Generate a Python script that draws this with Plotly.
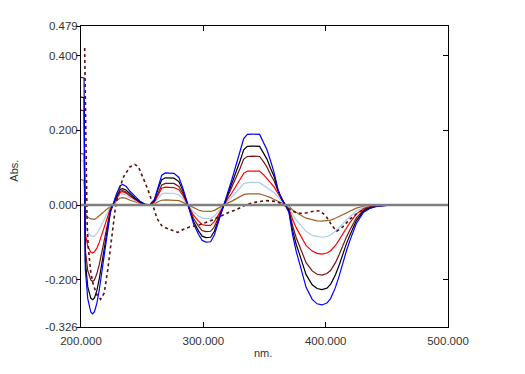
import plotly.graph_objects as go

# wavelength grid (nm)
wl = [200, 202.5, 203.5, 205.5, 208, 209.5, 211, 213, 215, 218, 221, 224, 226,
      229, 232, 234, 237, 240, 244, 248, 252, 256,
      260, 263, 266, 269, 272, 276, 280, 283, 286,
      289, 292, 296, 299, 302, 306, 309, 312, 314.5, 317,
      320, 323, 327, 330, 333, 336, 340, 346, 349, 352, 355, 358, 361, 364, 367,
      370, 373, 376, 379, 384, 389, 393, 397, 401, 404, 408, 411, 414, 417, 420,
      425, 431, 436, 441, 447, 452, 470, 500]

blue = [0.342, 0.340, -0.170, -0.250, -0.286, -0.291, -0.285, -0.262, -0.225, -0.155, -0.085, -0.020, 0.0,
        0.030, 0.052, 0.055, 0.050, 0.037, 0.024, 0.011, 0.003, 0.0,
        0.015, 0.050, 0.080, 0.086, 0.086, 0.085, 0.074, 0.048, 0.016,
        -0.016, -0.050, -0.078, -0.094, -0.099, -0.098, -0.080, -0.050, -0.020, 0.005,
        0.035, 0.065, 0.110, 0.142, 0.178, 0.189, 0.190, 0.189, 0.170, 0.148, 0.118, 0.085, 0.042, 0.016, 0.0,
        -0.020, -0.080, -0.125, -0.160, -0.220, -0.252, -0.264, -0.267, -0.262, -0.250, -0.220, -0.190, -0.155, -0.122, -0.093,
        -0.050, -0.019, -0.009, -0.004, -0.001, 0.0, 0.0, 0.0]

black = [0.289, 0.287, -0.148, -0.218, -0.249, -0.253, -0.248, -0.228, -0.196, -0.135, -0.074, -0.017, 0.0,
         0.024, 0.042, 0.044, 0.040, 0.030, 0.019, 0.009, 0.003, 0.0,
         0.013, 0.043, 0.068, 0.073, 0.073, 0.072, 0.063, 0.041, 0.014,
         -0.014, -0.044, -0.069, -0.083, -0.087, -0.086, -0.070, -0.044, -0.018, 0.004,
         0.029, 0.054, 0.091, 0.118, 0.148, 0.157, 0.158, 0.157, 0.141, 0.123, 0.098, 0.075, 0.040, 0.016, 0.0,
         -0.017, -0.068, -0.106, -0.135, -0.186, -0.213, -0.223, -0.226, -0.222, -0.212, -0.186, -0.161, -0.131, -0.103, -0.079,
         -0.042, -0.016, -0.008, -0.003, -0.001, 0.0, 0.0, 0.0]

maroon = [0.254, 0.252, -0.119, -0.175, -0.200, -0.204, -0.200, -0.183, -0.158, -0.109, -0.060, -0.014, 0.0,
          0.021, 0.037, 0.039, 0.035, 0.026, 0.017, 0.008, 0.002, 0.0,
          0.010, 0.034, 0.054, 0.058, 0.058, 0.058, 0.050, 0.033, 0.011,
          -0.012, -0.036, -0.056, -0.068, -0.071, -0.070, -0.058, -0.036, -0.014, 0.003,
          0.024, 0.045, 0.076, 0.098, 0.123, 0.130, 0.131, 0.130, 0.117, 0.102, 0.081, 0.064, 0.038, 0.017, 0.0,
          -0.014, -0.056, -0.088, -0.112, -0.154, -0.176, -0.185, -0.187, -0.183, -0.175, -0.154, -0.133, -0.108, -0.085, -0.065,
          -0.035, -0.013, -0.006, -0.003, -0.001, 0.0, 0.0, 0.0]

red = [0.138, 0.136, -0.075, -0.110, -0.126, -0.128, -0.125, -0.115, -0.099, -0.068, -0.037, -0.009, 0.0,
       0.019, 0.034, 0.036, 0.032, 0.024, 0.016, 0.007, 0.002, 0.0,
       0.008, 0.028, 0.045, 0.048, 0.048, 0.047, 0.041, 0.027, 0.009,
       -0.009, -0.027, -0.043, -0.052, -0.054, -0.054, -0.044, -0.027, -0.011, 0.002,
       0.017, 0.031, 0.053, 0.068, 0.085, 0.091, 0.091, 0.091, 0.082, 0.071, 0.060, 0.048, 0.031, 0.014, 0.0,
       -0.010, -0.039, -0.061, -0.078, -0.108, -0.123, -0.129, -0.131, -0.128, -0.122, -0.108, -0.093, -0.076, -0.060, -0.046,
       -0.024, -0.009, -0.004, -0.002, -0.001, 0.0, 0.0, 0.0]

lightblue = [0.119, 0.117, -0.049, -0.072, -0.083, -0.084, -0.083, -0.076, -0.065, -0.045, -0.025, -0.006, 0.0,
             0.016, 0.029, 0.030, 0.027, 0.020, 0.013, 0.006, 0.002, 0.0,
             0.005, 0.018, 0.030, 0.032, 0.032, 0.031, 0.027, 0.018, 0.006,
             -0.006, -0.018, -0.029, -0.035, -0.036, -0.036, -0.029, -0.018, -0.007, 0.002,
             0.011, 0.021, 0.035, 0.045, 0.057, 0.060, 0.061, 0.060, 0.054, 0.047, 0.040, 0.033, 0.021, 0.010, 0.0,
             -0.006, -0.026, -0.040, -0.051, -0.070, -0.081, -0.084, -0.086, -0.084, -0.080, -0.070, -0.061, -0.050, -0.039, -0.030,
             -0.016, -0.006, -0.003, -0.001, 0.0, 0.0, 0.0, 0.0]

brown = [0.068, 0.066, -0.022, -0.032, -0.037, -0.038, -0.038, -0.034, -0.029, -0.020, -0.011, -0.003, 0.0,
         0.011, 0.019, 0.020, 0.018, 0.013, 0.009, 0.004, 0.001, 0.0,
         0.003, 0.009, 0.013, 0.014, 0.014, 0.014, 0.012, 0.008, 0.003,
         -0.003, -0.008, -0.013, -0.016, -0.017, -0.017, -0.014, -0.008, -0.003, 0.001,
         0.006, 0.010, 0.018, 0.023, 0.028, 0.030, 0.030, 0.030, 0.027, 0.024, 0.020, 0.015, 0.010, 0.005, 0.0,
         -0.003, -0.013, -0.020, -0.026, -0.035, -0.040, -0.042, -0.043, -0.042, -0.040, -0.035, -0.030, -0.025, -0.020, -0.015,
         -0.008, -0.003, -0.001, -0.001, 0.0, 0.0, 0.0, 0.0]

# dotted spectrum (own grid)
wl_dot = [203, 204, 205, 206, 208, 210, 213, 216, 219, 222, 225, 228, 231, 235, 240, 244, 247, 250, 253, 256,
          259, 262, 266, 270, 275, 279, 283, 286, 289, 295, 300, 306, 312, 317, 322, 327, 335, 343, 351, 359,
          365, 370, 375, 381, 389, 395, 400, 405, 409, 414, 420, 427, 435, 445, 470, 500]
dotted = [0.420, 0.200, -0.050, -0.115, -0.180, -0.212, -0.240, -0.252, -0.235, -0.170, -0.090, -0.010, 0.040,
          0.077, 0.102, 0.109, 0.102, 0.080, 0.055, 0.030,
          -0.005, -0.035, -0.055, -0.062, -0.068, -0.073, -0.066, -0.062, -0.058, -0.055, -0.050, -0.042, -0.033,
          -0.025, -0.018, -0.012, 0.001, 0.008, 0.012, 0.010,
          0.003, -0.010, -0.019, -0.023, -0.017, -0.015, -0.028, -0.054, -0.070, -0.058, -0.037, -0.019, -0.006,
          0.0, 0.0, 0.0]

baseline_x = [200, 500]
baseline_y = [0.0, 0.0]

ytickvals = [-0.326, -0.2, 0.0, 0.2, 0.4, 0.479]
yticktext = ["-0.326", "-0.200", "0.000", "0.200", "0.400", "0.479"]
xtickvals = [200, 300, 400, 500]
xticktext = ["200.000", "300.000", "400.000", "500.000"]

fig = go.Figure()
fig.add_trace(go.Scatter(x=baseline_x, y=baseline_y, mode="lines",
                         line=dict(color="#808080", width=2.5), yaxis="y2", showlegend=False))
series = [
    (brown, "#a0602a"),
    (lightblue, "#a8cdf0"),
    (red, "#ff0000"),
    (maroon, "#7a1010"),
    (black, "#000000"),
    (blue, "#0000ff"),
]
for ys, col in series:
    fig.add_trace(go.Scatter(x=wl, y=ys, mode="lines", line=dict(color=col, width=1.2),
                             showlegend=False))
fig.add_trace(go.Scatter(x=wl_dot, y=dotted, mode="lines",
                         line=dict(color="#5a0f0f", width=1.6, dash="dot"), showlegend=False))

font = dict(family="Liberation Sans, Arial, sans-serif", size=11.5, color="#333333")
lab_font = dict(family="Liberation Sans, Arial, sans-serif", size=11, color="#333333")
fig.update_layout(
    width=525, height=374,
    margin=dict(l=73, r=85, t=12, b=55),
    paper_bgcolor="white", plot_bgcolor="white",
    showlegend=False,
    font=font,
    xaxis=dict(range=[200, 500], tickvals=xtickvals, ticktext=xticktext,
               showgrid=False, zeroline=False, showline=True, linecolor="#000000",
               linewidth=1, mirror="ticks", ticks="inside", ticklen=5, tickcolor="#000000",
               tickfont=font, ticklabelstandoff=3),
    yaxis=dict(range=[-0.326, 0.479], tickvals=ytickvals, ticktext=yticktext,
               showgrid=False, zeroline=False, showline=True, linecolor="#000000",
               linewidth=1, mirror=True, ticks="outside", ticklen=4, tickcolor="#000000",
               tickfont=font, ticklabelstandoff=-4),
    yaxis2=dict(range=[-0.326, 0.479], overlaying="y", side="right",
                tickvals=[-0.2, 0.2, 0.4], ticks="inside", ticklen=5, tickcolor="#000000",
                showticklabels=False, showgrid=False, zeroline=False, showline=False),
    annotations=[
        dict(text="Abs.", xref="paper", yref="paper", x=-0.181, y=0.518, showarrow=False,
             xanchor="center", yanchor="middle", textangle=-90, font=lab_font),
        dict(text="nm.", xref="paper", yref="paper", x=0.496, y=-0.085, showarrow=False,
             xanchor="center", yanchor="middle", font=lab_font),
    ],
)
fig.write_html("out.html")
